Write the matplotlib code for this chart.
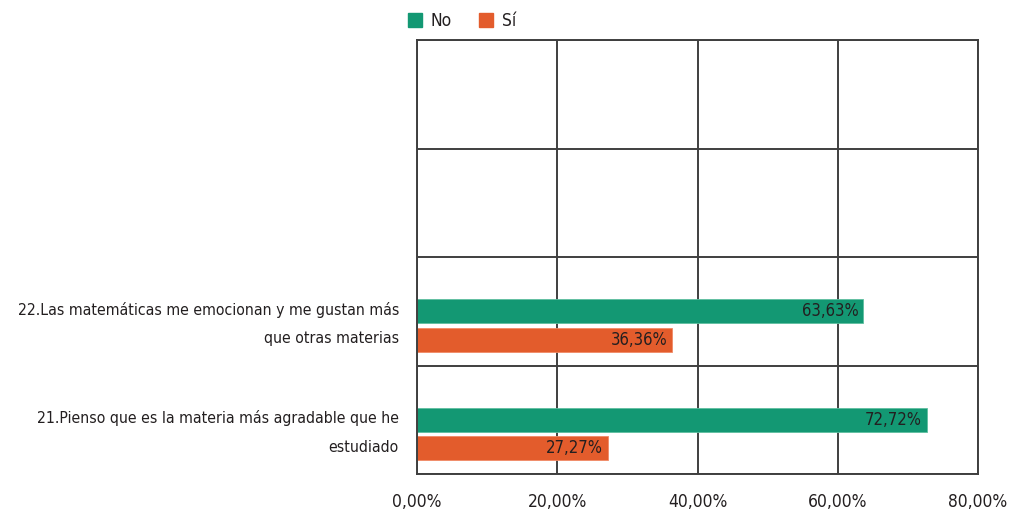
import numpy as np
import matplotlib.pyplot as plt
from matplotlib.ticker import FuncFormatter, FixedLocator
from matplotlib.patches import Patch

plt.rcParams['font.family'] = ['DejaVu Sans']
plt.rcParams['font.stretch'] = 'condensed'

categories = ['21.Pienso que es la materia más agradable que he\nestudiado',
              '22.Las matemáticas me emocionan y me gustan más\nque otras materias',
              '', '']
no_vals = [72.72, 63.63, None, None]
si_vals = [27.27, 36.36, None, None]
xticks = [0, 20, 40, 60, 80]

green = '#139873'
orange = '#E35C2C'
grid_c = '#3f3f3f'
txt_c = '#231F20'

fig = plt.figure(figsize=(10.09, 5.14), dpi=100)
ax = fig.add_axes([417/1009, 40/514, 561/1009, 434/514])

pos = np.arange(len(categories))
h = 0.22
off = 0.263
for i in range(len(categories)):
    if no_vals[i] is not None:
        ax.barh(pos[i], no_vals[i], height=h, color=green, edgecolor='#5fbf9f', linewidth=0.6)
        ax.text(no_vals[i] - 0.7, pos[i], ('%.2f%%' % no_vals[i]).replace('.', ','),
                ha='right', va='center', fontsize=12, color=txt_c)
    if si_vals[i] is not None:
        ax.barh(pos[i] - off, si_vals[i], height=h, color=orange, edgecolor='#f08a66', linewidth=0.6)
        ax.text(si_vals[i] - 0.7, pos[i] - off, ('%.2f%%' % si_vals[i]).replace('.', ','),
                ha='right', va='center', fontsize=12, color=txt_c)

ax.set_xlim(0, 80)
ax.set_ylim(-0.5, len(categories) - 0.5)
ax.set_xticks(xticks)
ax.xaxis.set_major_formatter(FuncFormatter(lambda v, p: ('%.2f%%' % v).replace('.', ',')))
ax.set_yticks(pos - 0.04)
ax.set_yticklabels(categories, fontsize=11.3, color=txt_c, ha='right')
for t in ax.get_yticklabels():
    t.set_linespacing(2.15)
ax.yaxis.set_minor_locator(FixedLocator(np.arange(-0.5, len(categories), 1.0)))
ax.tick_params(axis='both', which='both', length=0)
ax.tick_params(axis='x', labelsize=12.5, labelcolor=txt_c, pad=14)
ax.tick_params(axis='y', pad=13)
ax.grid(True, axis='x', which='major', color=grid_c, linewidth=1.4)
ax.grid(True, axis='y', which='minor', color=grid_c, linewidth=1.4)
ax.set_axisbelow(True)
for s in ax.spines.values():
    s.set_color(grid_c)
    s.set_linewidth(1.4)

handles = [Patch(color=green, label='No'), Patch(color=orange, label='Sí')]
fig.legend(handles=handles, loc='center', bbox_to_anchor=(462/1009, 1 - 21/514), ncol=2,
           frameon=False, fontsize=12.5, handlelength=0.8, handleheight=0.8,
           handletextpad=0.5, columnspacing=1.6, labelcolor=txt_c)

fig.savefig('out.png', dpi=100)
